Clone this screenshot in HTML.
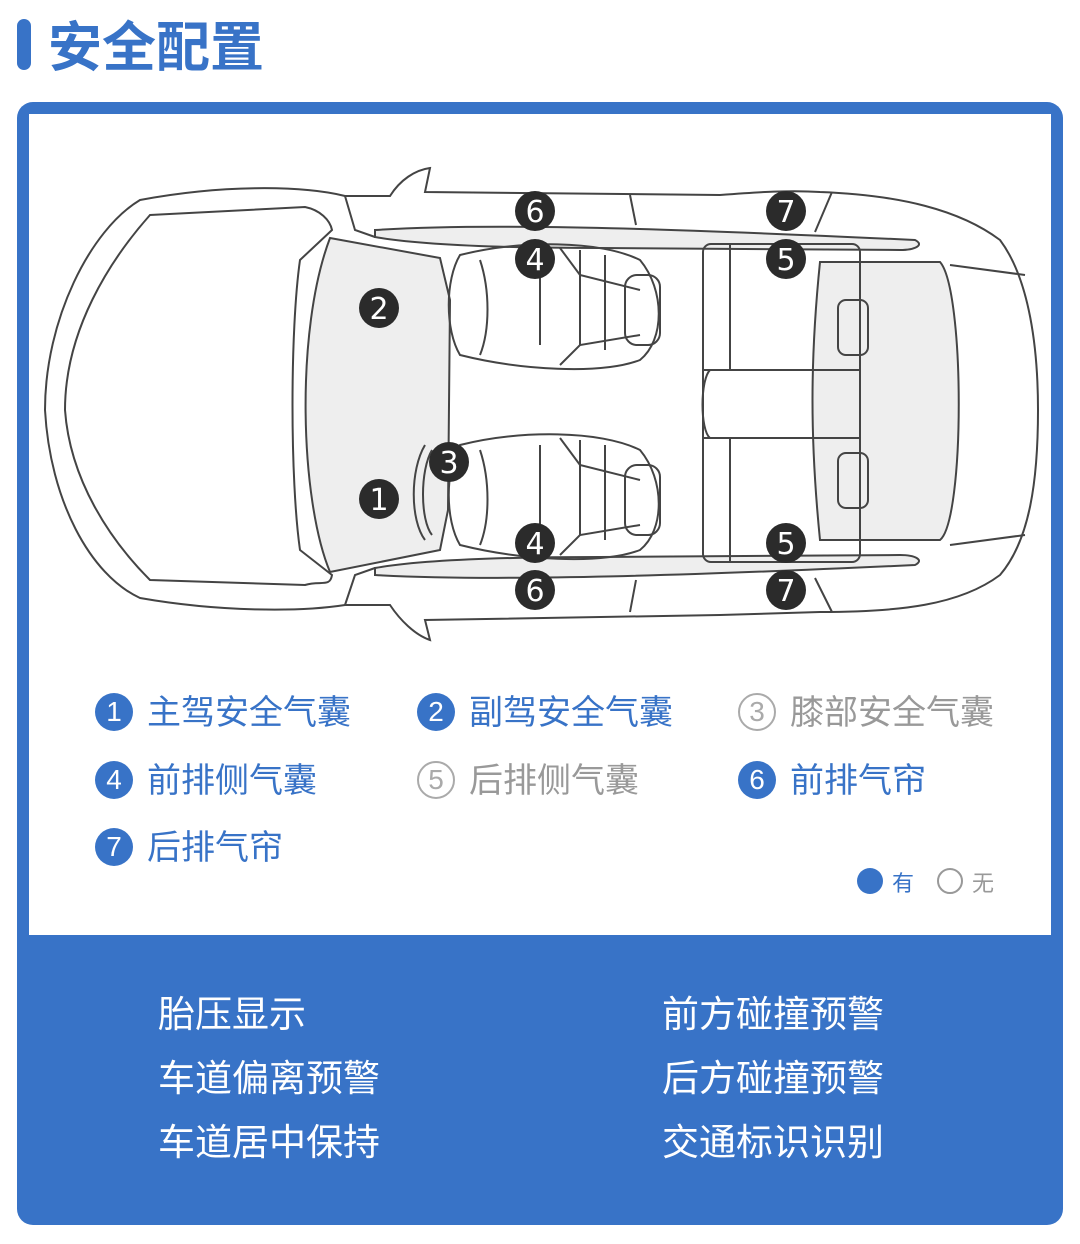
<!DOCTYPE html>
<html><head><meta charset="utf-8"><style>
body{margin:0;width:1080px;height:1244px;background:#fff;position:relative;font-family:"Liberation Sans","Noto Sans CJK SC",sans-serif;overflow:hidden}
.a{position:absolute}
.t{font-size:54px;font-weight:bold;color:#3873c7;left:48px;top:13px;line-height:70px;letter-spacing:0px}
.lg{font-size:34px;color:#3873c7;line-height:40px;white-space:nowrap}
.gr{color:#999}
.c{display:inline-block;width:38px;height:38px;border-radius:50%;background:#3873c7;color:#fff;font-size:28px;text-align:center;line-height:38px;vertical-align:top;margin-right:14px}
.o{background:#fff;border:2px solid #aaa;color:#aaa;width:34px;height:34px;line-height:34px}
.f{font-size:37px;color:#fff;line-height:44px}
</style></head><body>
<div class="a" style="left:17px;top:19px;width:14px;height:51px;background:#3873c7;border-radius:7px"></div>
<div class="a t">安全配置</div>
<div class="a" style="left:17px;top:102px;width:1046px;height:1123px;background:#3873c7;border-radius:16px"></div>
<div class="a" style="left:29px;top:114px;width:1022px;height:821px;background:#fff"></div>
<svg class="a" style="left:0;top:0" width="1080" height="940" viewBox="0 0 1080 940" fill="none" stroke="#444" stroke-width="2">
<path d="M140 200 C220 185 300 185 345 196 L390 196 C400 180 415 170 430 168 L425 192 L720 195 C760 192 790 190 820 192 C900 195 960 210 1000 240 C1030 280 1038 350 1038 410 C1038 480 1030 540 1000 575 C960 605 900 612 820 612 L720 615 L425 620 L430 640 C415 635 400 620 390 605 L345 605 C300 612 220 612 140 598 C90 575 50 500 45 410 C45 320 90 230 140 200 Z"/>
<path d="M150 215 L305 207 C320 210 330 220 332 230 L300 260 C290 330 290 480 300 550 L332 575 C330 588 320 580 305 585 L150 580 C110 540 70 480 65 410 C65 330 110 260 150 215 Z"/>
<path d="M345 196 L355 230 L375 237 M345 605 L355 575 L375 568"/>
<path d="M630 195 L636 225 M630 612 L636 580 M832 192 L815 232 M832 612 L815 578"/>
<path d="M950 265 L1025 275 M950 545 L1025 535"/>
<path d="M330 238 L440 258 L450 300 L448 510 L440 550 L330 572 C300 500 295 330 330 238 Z" fill="#eee"/>
<path d="M375 230 C500 222 700 230 915 240 C925 245 915 250 900 250 L600 248 C500 248 420 245 375 237 Z" fill="#eee"/>
<path d="M375 575 C500 582 700 575 915 565 C925 560 915 555 900 555 L600 557 C500 557 420 560 375 568 Z" fill="#eee"/>
<path d="M820 262 L940 262 C965 290 965 520 940 540 L820 540 C810 440 810 360 820 262 Z" fill="#eee"/>
<rect x="838" y="300" width="30" height="55" rx="8"/><rect x="838" y="453" width="30" height="55" rx="8"/>
<rect x="703" y="244" width="157" height="318" rx="8"/>
<path d="M730 244 V370 M730 438 V562 M703 370 H860 M703 438 H860 M710 370 C700 380 700 430 710 438"/>
<g id="s"><path d="M460 255 C520 240 600 240 640 260 C665 290 665 340 640 360 C600 375 520 370 460 355 C445 330 445 280 460 255 Z"/>
<path d="M480 260 C490 290 490 330 480 355 M540 255 V345 M580 250 V345 M605 255 V350 M560 248 L580 275 L640 290 M560 365 L580 345 L640 335"/>
<rect x="625" y="275" width="35" height="70" rx="12"/></g>
<use href="#s" transform="translate(0,190)"/>
<path d="M425 445 C410 470 410 520 425 540 M432 450 C420 470 420 520 432 535"/>
</svg>
<svg class="a" style="left:0;top:0" width="1080" height="940">
<g fill="#2b2b2b">
<circle cx="535" cy="211" r="20"/><circle cx="786" cy="211" r="20"/><circle cx="535" cy="259" r="20"/><circle cx="786" cy="259" r="20"/>
<circle cx="379" cy="308" r="20"/><circle cx="449" cy="462" r="20"/><circle cx="379" cy="499" r="20"/>
<circle cx="535" cy="543" r="20"/><circle cx="786" cy="543" r="20"/><circle cx="535" cy="590" r="20"/><circle cx="786" cy="590" r="20"/>
</g>
<g fill="#fff" font-family="DejaVu Sans,sans-serif" font-size="30" text-anchor="middle">
<text x="535" y="222">6</text><text x="786" y="222">7</text><text x="535" y="270">4</text><text x="786" y="270">5</text>
<text x="379" y="319">2</text><text x="449" y="473">3</text><text x="379" y="510">1</text>
<text x="535" y="554">4</text><text x="786" y="554">5</text><text x="535" y="601">6</text><text x="786" y="601">7</text>
</g></svg>
<div class="a lg" style="left:95px;top:693px"><span class="c">1</span>主驾安全气囊</div>
<div class="a lg" style="left:417px;top:693px"><span class="c">2</span>副驾安全气囊</div>
<div class="a lg gr" style="left:738px;top:693px"><span class="c o">3</span>膝部安全气囊</div>
<div class="a lg" style="left:95px;top:761px"><span class="c">4</span>前排侧气囊</div>
<div class="a lg gr" style="left:417px;top:761px"><span class="c o">5</span>后排侧气囊</div>
<div class="a lg" style="left:738px;top:761px"><span class="c">6</span>前排气帘</div>
<div class="a lg" style="left:95px;top:828px"><span class="c">7</span>后排气帘</div>
<div class="a" style="left:857px;top:868px;width:26px;height:26px;border-radius:50%;background:#3873c7"></div>
<div class="a" style="left:892px;top:866px;font-size:22px;color:#3873c7">有</div>
<div class="a" style="left:937px;top:868px;width:22px;height:22px;border-radius:50%;border:2px solid #999"></div>
<div class="a" style="left:972px;top:866px;font-size:22px;color:#999">无</div>
<div class="a f" style="left:158px;top:993px">胎压显示</div>
<div class="a f" style="left:158px;top:1057px">车道偏离预警</div>
<div class="a f" style="left:158px;top:1121px">车道居中保持</div>
<div class="a f" style="left:662px;top:993px">前方碰撞预警</div>
<div class="a f" style="left:662px;top:1057px">后方碰撞预警</div>
<div class="a f" style="left:662px;top:1121px">交通标识识别</div>
</body></html>
